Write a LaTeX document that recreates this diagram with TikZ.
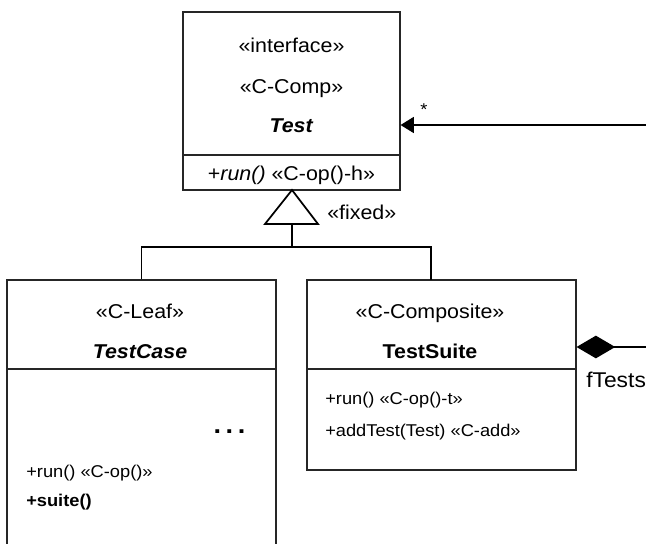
\documentclass[tikz,border=0pt]{standalone}
\usepackage{fontspec}
\setmainfont[FakeStretch=1.07]{Liberation Sans}
\usetikzlibrary{arrows.meta}
\begin{document}
\begin{tikzpicture}[x=0.75pt,y=-0.75pt,
  box/.style={draw=black!85,line width=0.8pt,inner sep=0pt,fill=none},
  conn/.style={draw=black,line width=1.3pt},
  big/.style={inner sep=0pt,font=\fontsize{15}{18}\selectfont},
  small/.style={inner sep=0pt,font=\fontsize{12.8}{15}\selectfont},
  lab/.style={inner sep=0pt,font=\fontsize{16}{19}\selectfont}]
\useasboundingbox (0,0) rectangle (646,543);
\clip (0,0) rectangle (646,543);
\fill[white] (0,0) rectangle (646,543);
% boxes
\node[box,minimum width=162.75pt,minimum height=133.5pt] (test) at (291.5,101) {};
\node[box,minimum width=201.75pt,minimum height=210pt] (tc) at (141.5,420) {};
\node[box,minimum width=201.75pt,minimum height=142.5pt] (ts) at (441.5,375) {};
% dividers
\draw[box] (test.west |- 0,155) -- (test.east |- 0,155);
\draw[box] (tc.west |- 0,369) -- (tc.east |- 0,369);
\draw[box] (ts.west |- 0,369) -- (ts.east |- 0,369);
% Test texts
\node[big,anchor=base] (t1) at (291.5,52) {«interface»};
\node[big,anchor=base] (t2) at (291.5,93) {«C-Comp»};
\node[big,anchor=base] (t3) at (291.5,132) {\textbf{\textit{Test}}};
\node[big,anchor=base] (t4) at (291.5,180) {+\textit{run()} «C-op()-h»};
% TestCase texts
\node[big,anchor=base] (c1) at (140,318) {«C-Leaf»};
\node[big,anchor=base] (c2) at (140,358) {\textbf{\textit{TestCase}}};
\node[inner sep=0pt,font=\fontsize{19}{22}\selectfont,anchor=base] (c3) at (229.5,433) {\textbf{.\hspace{0.18em}.\hspace{0.18em}.}};
\node[small,anchor=base west] (c4) at (26,477) {+run() «C-op()»};
\node[small,anchor=base west] (c5) at (26,506) {\textbf{+suite()}};
% TestSuite texts
\node[big,anchor=base] (s1) at (430,318) {«C-Composite»};
\node[big,anchor=base] (s2) at (430,358) {\textbf{TestSuite}};
\node[small,anchor=base west] (s3) at (325,404) {+run() «C-op()-t»};
\node[small,anchor=base west] (s4) at (325,436) {+addTest(Test) «C-add»};
% generalization
\coordinate (apex) at (292,190);
\coordinate (tbl) at (265,224);
\coordinate (tbr) at (318,224);
\coordinate (tbm) at (292,224);
\coordinate (bar) at (292,247);
\coordinate (tsin) at (431,280);
\draw[conn,line join=miter] (apex) -- (tbl) -- (tbr) -- cycle;
\draw[conn] (tbm) -- (bar);
\draw[conn] (tc.north) |- (tsin |- bar) -- (tsin);
\node[big,anchor=west] (fx) at (327,212) {«fixed»};
% association arrow to Test
\coordinate (rin) at (660,125);
\draw[conn,-{Triangle[length=10pt,width=12pt]}] (rin) -- (test.east |- rin);
\node[small,anchor=center] (star) at (424,110) {*};
% composition
\coordinate (rout) at (660,347);
\draw[conn,{Diamond[length=29pt,width=17pt]}-] (ts.east |- rout) -- (rout);
\node[lab,anchor=base west] (ft) at (586,387) {fTests};
\end{tikzpicture}
\end{document}
